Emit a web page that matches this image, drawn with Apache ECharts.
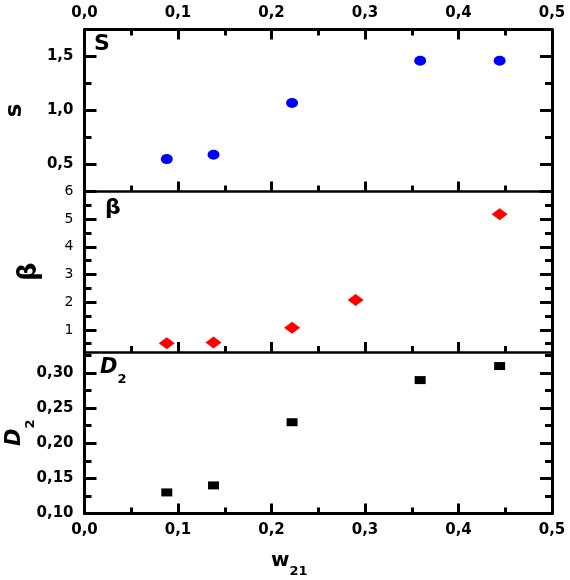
<!DOCTYPE html>
<html>
<head>
<meta charset="utf-8">
<script src="https://cdn.jsdelivr.net/npm/echarts@6/dist/echarts.min.js"></script>
<style>html,body{margin:0;padding:0;background:#fff}#c{width:570px;height:580px}</style>
</head>
<body>
<div id="c"></div>
<script>
// ---- data ----
const xS = [0.088, 0.138, 0.222, 0.359, 0.444];
const sVals = [0.55, 0.59, 1.07, 1.46, 1.46];
const xBeta = [0.088, 0.138, 0.222, 0.290, 0.444];
const betaVals = [0.52, 0.54, 1.08, 2.08, 5.18];
const xD2 = [0.088, 0.138, 0.222, 0.359, 0.444];
const d2Vals = [0.13, 0.14, 0.23, 0.29, 0.31];

// ---- tick values ----
const sMajor = [0.5, 1.0, 1.5];
const sMinor = [0.75, 1.25];
const betaMajor = [1, 2, 3, 4, 5, 6];
const betaMinor = [0.5, 1.5, 2.5, 3.5, 4.5, 5.5];
const d2Major = [0.10, 0.15, 0.20, 0.25, 0.30];
const d2Minor = [0.125, 0.175, 0.225, 0.275, 0.325];

const FONT = 'DejaVu Sans';
const comma = (v, d) => v.toFixed(d).replace('.', ',');

const gridBase = {left: 84.5, right: 18, containLabel: false, outerBoundsMode: 'none'};
const grids = [
  Object.assign({top: 29.5, height: 162}, gridBase),
  Object.assign({top: 191.5, height: 160.5}, gridBase),
  Object.assign({top: 352, height: 161.5}, gridBase)
];

function xAx(grid, pos, showLabel, lw, extra) {
  return Object.assign({
    type: 'value', gridIndex: grid, position: pos, min: 0, max: 0.5, interval: 0.1,
    nameMoveOverlap: false,
    axisLine: {show: true, onZero: false, lineStyle: {color: '#000', width: lw}},
    axisTick: {show: true, inside: true, length: 10, lineStyle: {color: '#000', width: 3}},
    minorTick: {show: true, splitNumber: 2, length: 6, lineStyle: {color: '#000', width: 3}},
    axisLabel: {show: showLabel, margin: 9, color: '#000', fontFamily: FONT, fontWeight: 'bold', fontSize: 15,
      formatter: v => comma(v, 1)},
    splitLine: {show: false}, minorSplitLine: {show: false}
  }, extra || {});
}

function yAx(grid, pos, min, max, ticks, len, labels, labelFmt, lineShow, labelStyle, extra) {
  return Object.assign({
    type: 'value', gridIndex: grid, position: pos, min: min, max: max,
    nameMoveOverlap: false,
    axisLine: {show: lineShow, onZero: false, lineStyle: {color: '#000', width: 3}},
    axisTick: {show: true, inside: true, length: len, customValues: ticks, lineStyle: {color: '#000', width: 3}},
    axisLabel: Object.assign({show: !!labels, customValues: labels || undefined, margin: 11, color: '#000',
      fontFamily: FONT, formatter: labelFmt}, labelStyle || {}),
    splitLine: {show: false}
  }, extra || {});
}

const boldLab = {fontWeight: 'bold', fontSize: 15};
const regLab = {fontWeight: 'normal', fontSize: 14};

const option = {
  animation: false,
  backgroundColor: '#fff',
  grid: grids,
  xAxis: [
    xAx(0, 'top', true, 3),
    xAx(0, 'bottom', false, 2.5),
    xAx(1, 'bottom', false, 2.5),
    xAx(2, 'bottom', true, 3, {
      name: '{w|w}{s|21}', nameLocation: 'middle', nameGap: 37,
      nameTextStyle: {padding: [0, 58, 0, 0], rich: {
        w: {fontFamily: FONT, fontWeight: 'bold', fontSize: 20, color: '#000', verticalAlign: 'bottom', padding: [0, 0, 8, 0]},
        s: {fontFamily: FONT, fontWeight: 'bold', fontSize: 13, color: '#000', verticalAlign: 'bottom'}
      }}
    })
  ],
  yAxis: [
    // grid 0 : s
    yAx(0, 'left', 0.25, 1.75, sMajor, 12, sMajor, v => comma(v, 1), true, boldLab, {
      name: 's', nameLocation: 'middle', nameGap: 58,
      nameTextStyle: {fontFamily: FONT, fontWeight: 'bold', fontSize: 23, color: '#000'}
    }),
    yAx(0, 'left', 0.25, 1.75, sMinor, 7, null, null, false),
    yAx(0, 'right', 0.25, 1.75, sMajor, 12, null, null, true),
    yAx(0, 'right', 0.25, 1.75, sMinor, 7, null, null, false),
    // grid 1 : beta
    yAx(1, 'left', 0.2, 6, betaMajor, 12, betaMajor, v => String(v), true, regLab, {
      name: 'β', nameLocation: 'middle', nameGap: 42,
      nameTextStyle: {fontFamily: FONT, fontWeight: 'bold', fontSize: 26, color: '#000'}
    }),
    yAx(1, 'left', 0.2, 6, betaMinor, 7, null, null, false),
    yAx(1, 'right', 0.2, 6, betaMajor, 12, null, null, true),
    yAx(1, 'right', 0.2, 6, betaMinor, 7, null, null, false),
    // grid 2 : D2
    yAx(2, 'left', 0.10, 0.33, d2Major, 12, d2Major, v => comma(v, 2), true, boldLab, {
      name: '{d|D}{s|2}', nameLocation: 'middle', nameGap: 47,
      nameTextStyle: {rich: {
        d: {fontFamily: FONT, fontWeight: 'bold', fontStyle: 'italic', fontSize: 21, color: '#000', verticalAlign: 'bottom', padding: [0, 0, 12, 0]},
        s: {fontFamily: FONT, fontWeight: 'bold', fontSize: 13, color: '#000', verticalAlign: 'bottom'}
      }}
    }),
    yAx(2, 'left', 0.10, 0.33, d2Minor, 7, null, null, false),
    yAx(2, 'right', 0.10, 0.33, d2Major, 12, null, null, true),
    yAx(2, 'right', 0.10, 0.33, d2Minor, 7, null, null, false)
  ],
  series: [
    {type: 'scatter', xAxisIndex: 1, yAxisIndex: 0, symbol: 'circle', symbolSize: [12, 10],
      itemStyle: {color: '#0000ff', opacity: 1}, data: xS.map((x, i) => [x, sVals[i]])},
    {type: 'scatter', xAxisIndex: 2, yAxisIndex: 4, symbol: 'diamond', symbolSize: [16, 12],
      itemStyle: {color: '#ff0000', opacity: 1}, data: xBeta.map((x, i) => [x, betaVals[i]])},
    {type: 'scatter', xAxisIndex: 3, yAxisIndex: 8, symbol: 'rect', symbolSize: [11, 8],
      itemStyle: {color: '#000000', opacity: 1}, data: xD2.map((x, i) => [x, d2Vals[i]])}
  ],
  graphic: [
    {type: 'text', left: 94, top: 33, style: {text: 'S', fontFamily: FONT, fontWeight: 'bold', fontSize: 22, fill: '#000'}},
    {type: 'text', left: 105, top: 197, style: {text: 'β', fontFamily: FONT, fontWeight: 'bold', fontSize: 22, fill: '#000'}},
    {type: 'text', left: 100, top: 357, style: {
      text: '{d|D}{s|2}',
      rich: {
        d: {fontFamily: FONT, fontWeight: 'bold', fontStyle: 'italic', fontSize: 21, fill: '#000', verticalAlign: 'bottom', padding: [0, 0, 8, 0]},
        s: {fontFamily: FONT, fontWeight: 'bold', fontSize: 13, fill: '#000', verticalAlign: 'bottom'}
      }}}
  ]
};

const chart = echarts.init(document.getElementById('c'), null, {renderer: 'canvas'});
chart.setOption(option);
</script>
</body>
</html>
